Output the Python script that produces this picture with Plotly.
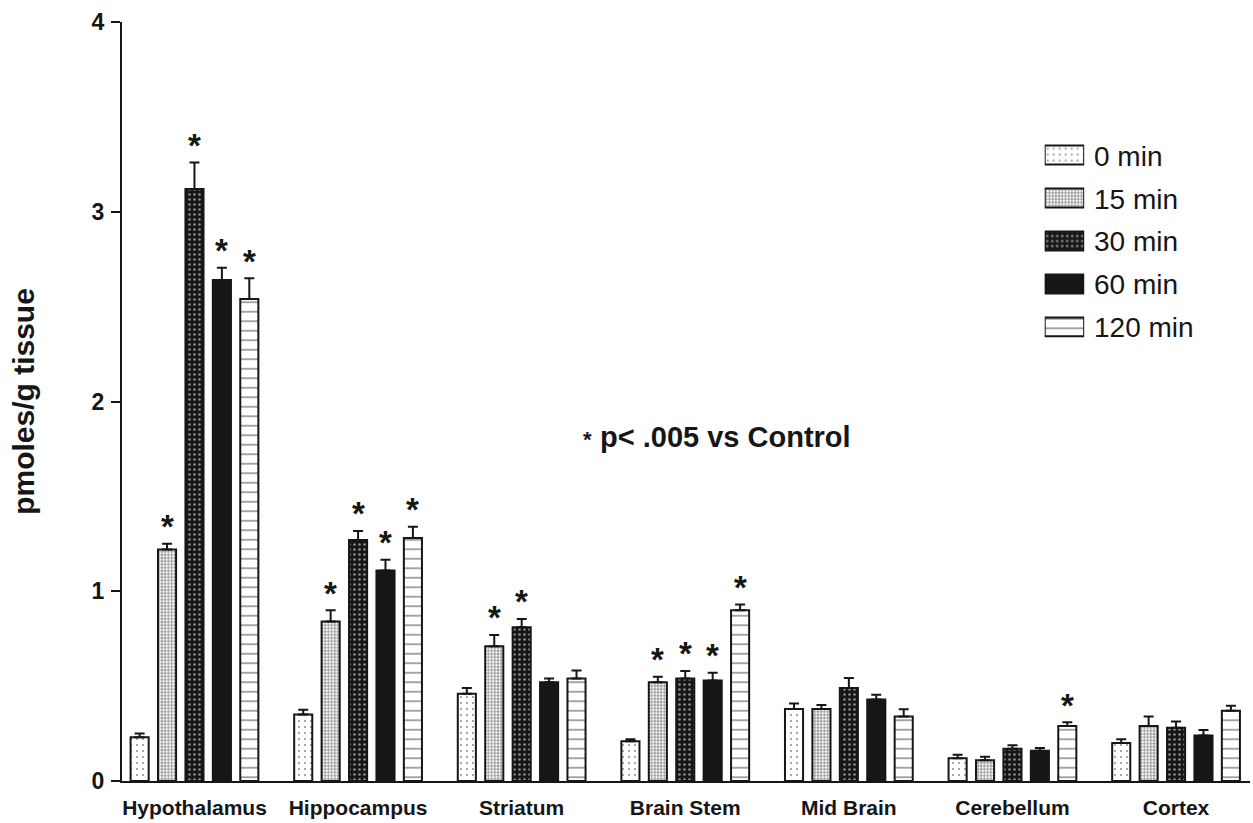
import plotly.graph_objects as go

# Brain regions (x categories) and sampling times (series)
regions = ["Hypothalamus", "Hippocampus", "Striatum", "Brain Stem",
           "Mid Brain", "Cerebellum", "Cortex"]
times = ["0 min", "15 min", "30 min", "60 min", "120 min"]

# Mean concentration (pmoles/g tissue) and SEM per region, one list per time point
mean_0 = [0.23, 0.35, 0.46, 0.21, 0.38, 0.12, 0.20]
sem_0 = [0.02, 0.026, 0.03, 0.01, 0.028, 0.018, 0.02]
mean_15 = [1.22, 0.84, 0.71, 0.52, 0.38, 0.11, 0.29]
sem_15 = [0.03, 0.06, 0.06, 0.03, 0.02, 0.018, 0.05]
mean_30 = [3.12, 1.27, 0.81, 0.54, 0.49, 0.17, 0.28]
sem_30 = [0.14, 0.048, 0.044, 0.04, 0.053, 0.019, 0.033]
mean_60 = [2.64, 1.11, 0.52, 0.53, 0.43, 0.16, 0.24]
sem_60 = [0.065, 0.056, 0.02, 0.04, 0.025, 0.014, 0.029]
mean_120 = [2.54, 1.28, 0.54, 0.90, 0.34, 0.29, 0.37]
sem_120 = [0.11, 0.06, 0.043, 0.03, 0.038, 0.019, 0.026]

# p < .005 vs control flags
sig_0 = [0, 0, 0, 0, 0, 0, 0]
sig_15 = [1, 1, 1, 1, 0, 0, 0]
sig_30 = [1, 1, 1, 1, 0, 0, 0]
sig_60 = [1, 1, 0, 1, 0, 0, 0]
sig_120 = [1, 1, 0, 1, 0, 1, 0]

means = [mean_0, mean_15, mean_30, mean_60, mean_120]
sems = [sem_0, sem_15, sem_30, sem_60, sem_120]
sigs = [sig_0, sig_15, sig_30, sig_60, sig_120]

INK = "#161616"
FONT = "Liberation Sans"

# fill pattern and base colour for each time point
patterns = [
    dict(shape=".", fgcolor=INK, bgcolor="white", size=6, solidity=0.09),
    dict(shape="+", fgcolor=INK, bgcolor="white", size=3.2, solidity=0.5),
    dict(shape=".", fgcolor="white", bgcolor=INK, size=5, solidity=0.22),
    dict(shape="", fgcolor=INK, bgcolor=INK, size=8, solidity=0.3),
    dict(shape="-", fgcolor=INK, bgcolor="white", size=9.5, solidity=0.16),
]
base_colors = ["white", "white", INK, INK, "white"]

BARGAP = 0.162
GROUPGAP = 0.34
slot = (1 - BARGAP) / len(times)

fig = go.Figure()
x_idx = list(range(len(regions)))

for k, name in enumerate(times):
    fig.add_trace(go.Bar(
        x=x_idx, y=means[k], name=name,
        marker=dict(color=base_colors[k],
                    line=dict(color=INK, width=2),
                    pattern=patterns[k]),
        error_y=dict(type="data", symmetric=False, array=sems[k],
                     arrayminus=[0] * len(regions),
                     color=INK, thickness=2, width=5),
        showlegend=False,
    ))

# significance asterisks above the error bars
annotations = []
for k in range(len(times)):
    for i in range(len(regions)):
        if sigs[k][i]:
            annotations.append(dict(
                x=i + (k - 2) * slot, y=means[k][i] + sems[k][i],
                xref="x", yref="y", text="*", showarrow=False,
                xanchor="center", yanchor="middle", yshift=17,
                font=dict(family=FONT, size=33, color=INK, weight="bold"),
            ))

# key: one swatch per time point, drawn with its own bar trace on an inset axis pair
for k, name in enumerate(times):
    fig.add_trace(go.Bar(
        x=[1], y=[name], orientation="h",
        xaxis="x2", yaxis="y2", width=0.44, showlegend=False,
        offsetgroup="key",
        marker=dict(color=base_colors[k], line=dict(color=INK, width=2),
                    pattern=patterns[k]),
        hoverinfo="skip",
    ))
for name in times:
    annotations.append(dict(
        x=1, y=name, xref="x2 domain", yref="y2", text=name,
        showarrow=False, xanchor="left", yanchor="middle", xshift=8, yshift=-1,
        font=dict(family=FONT, size=28, color=INK),
    ))

# significance note
annotations.append(dict(
    x=0.422, y=0.453, xref="paper", yref="paper", text="p< .005 vs Control",
    showarrow=False, xanchor="left", yanchor="middle",
    font=dict(family=FONT, size=29, color=INK, weight="bold"),
))
annotations.append(dict(
    x=0.422, y=0.453, xref="paper", yref="paper", text="*",
    showarrow=False, xanchor="right", yanchor="middle", xshift=-4, yshift=-2,
    font=dict(family=FONT, size=22, color=INK, weight="bold"),
))

fig.update_layout(
    width=1253, height=823,
    margin=dict(l=122, r=3, t=22, b=42),
    paper_bgcolor="white", plot_bgcolor="white",
    barmode="group", bargap=BARGAP, bargroupgap=GROUPGAP,
    showlegend=False,
    annotations=annotations,
    xaxis=dict(
        tickmode="array", tickvals=x_idx, ticktext=regions,
        range=[-0.443, 6.452], showline=True, linecolor=INK, linewidth=2,
        ticks="", showgrid=False, zeroline=False, ticklabelstandoff=7,
        tickfont=dict(family=FONT, size=21, color=INK, weight="bold"),
    ),
    yaxis=dict(
        range=[0, 4], tickvals=[0, 1, 2, 3, 4],
        showline=True, linecolor=INK, linewidth=2,
        ticks="outside", ticklen=9, tickwidth=2, tickcolor=INK,
        showgrid=False, zeroline=False, ticklabelstandoff=2,
        tickfont=dict(family=FONT, size=23, color=INK, weight="bold"),
        title=dict(text="pmoles/g tissue", standoff=48,
                   font=dict(family=FONT, size=30, color=INK, weight="bold")),
    ),
    xaxis2=dict(domain=[0.818, 0.853], anchor="y2", range=[0, 1],
                visible=False, fixedrange=True),
    yaxis2=dict(domain=[0.570, 0.853], anchor="x2", type="category",
                categoryorder="array", categoryarray=times,
                range=[4.5, -0.5], visible=False, fixedrange=True),
)

fig.write_html("out.html")
